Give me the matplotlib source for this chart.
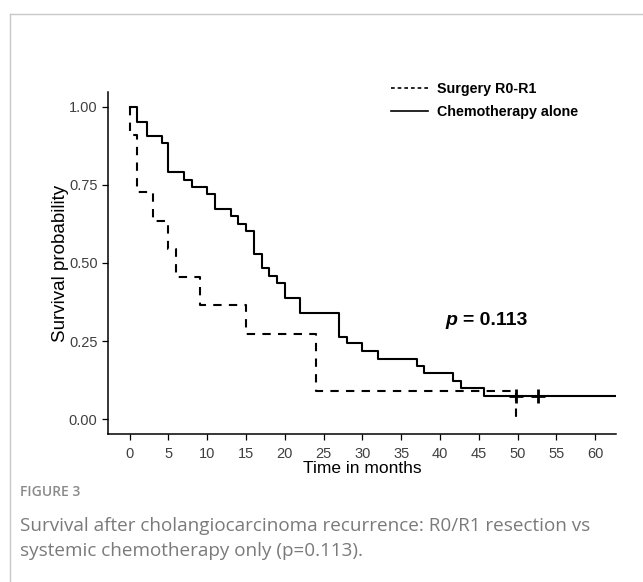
import matplotlib
matplotlib.use("Agg")
import matplotlib.pyplot as plt
from matplotlib.lines import Line2D

# Kaplan-Meier steps
surgery_time = [0, 0.1, 1, 3, 5, 6, 9, 15, 24, 49.8]
surgery_surv = [1.0, 0.909, 0.727, 0.636, 0.545, 0.455, 0.364, 0.273, 0.091, 0.0]

chemo_time = [0, 1, 2.2, 4.1, 5, 7, 8, 10, 11, 13, 14, 15, 16, 17, 18, 19, 20, 22,
              27, 28, 30, 32, 37, 38, 41.7, 42.7, 45.7, 63]
chemo_surv = [1.0, 0.953, 0.907, 0.884, 0.791, 0.767, 0.744, 0.721, 0.672, 0.650,
              0.626, 0.602, 0.530, 0.484, 0.458, 0.435, 0.388, 0.339, 0.264, 0.243,
              0.219, 0.192, 0.170, 0.146, 0.122, 0.098, 0.074, 0.074]

censor_time = [49.8, 52.7]
censor_surv = [0.074, 0.074]

x_ticks = [0, 5, 10, 15, 20, 25, 30, 35, 40, 45, 50, 55, 60]
y_ticks = [0.0, 0.25, 0.5, 0.75, 1.0]
y_ticklabels = ["0.00", "0.25", "0.50", "0.75", "1.00"]

labels = ["Surgery R0-R1", "Chemotherapy alone"]

plt.rcParams['font.family'] = ['Liberation Sans', 'DejaVu Sans']

fig = plt.figure(figsize=(6.43, 5.82), dpi=100)
ax = fig.add_axes([108 / 643, 1 - 434 / 582, 508 / 643, 342 / 582])

dash = (0, (4, 3.5))
ax.step(surgery_time, surgery_surv, where='post', color='black', lw=1.5, linestyle=dash)
ax.step(chemo_time, chemo_surv, where='post', color='black', lw=1.5)
ax.plot(censor_time, censor_surv, linestyle='none', marker='+', color='black',
        markersize=10, markeredgewidth=2)

ax.set_xlim(-2.8, 62.7)
ax.set_ylim(-0.048, 1.048)
ax.set_xticks(x_ticks)
ax.set_yticks(y_ticks)
ax.set_yticklabels(y_ticklabels)
ax.tick_params(labelsize=10.5, labelcolor='#404040', length=4.5, width=0.9, color='black')
ax.tick_params(axis='x', pad=5)
ax.tick_params(axis='y', pad=3)

for side in ['top', 'right']:
    ax.spines[side].set_visible(False)
for side in ['left', 'bottom']:
    ax.spines[side].set_linewidth(1.1)

ax.set_xlabel("Time in months", fontsize=12.5, labelpad=0)
ax.set_ylabel("Survival probability", fontsize=13.5, labelpad=0)

handles = [Line2D([], [], color='black', lw=1.2, linestyle=(0, (2.2, 1.8))),
           Line2D([], [], color='black', lw=1.2)]
ax.legend(handles, labels, loc='upper left', bbox_to_anchor=(0.532, 1.068), frameon=False,
          prop={'weight': 'bold', 'size': 10.3}, handlelength=2.6, handletextpad=0.6,
          labelspacing=0.65)

ax.text(0.664, 0.318, "p", transform=ax.transAxes, fontsize=14,
        fontweight='bold', fontstyle='italic')
ax.text(0.699, 0.318, "= 0.113", transform=ax.transAxes, fontsize=14, fontweight='bold')

# caption
fig.text(20 / 643, 1 - 492 / 582, "FIGURE 3", fontsize=10, color='#8a8a8a',
         family='Open Sans', fontweight='semibold', va='center')
fig.text(20 / 643, 1 - 526 / 582,
         "Survival after cholangiocarcinoma recurrence: R0/R1 resection vs",
         fontsize=13.6, color='#7a7a7a', family='Open Sans', va='center')
fig.text(20 / 643, 1 - 551 / 582, "systemic chemotherapy only (p=0.113).",
         fontsize=13.6, color='#7a7a7a', family='Open Sans', va='center')

# page frame
fig.add_artist(Line2D([10 / 643, 10 / 643], [0, 1 - 14 / 582], color='#c8c8c8', lw=1,
                      transform=fig.transFigure))
fig.add_artist(Line2D([10 / 643, 1], [1 - 14 / 582, 1 - 14 / 582], color='#c8c8c8', lw=1,
                      transform=fig.transFigure))

fig.savefig("out.png", dpi=100)
